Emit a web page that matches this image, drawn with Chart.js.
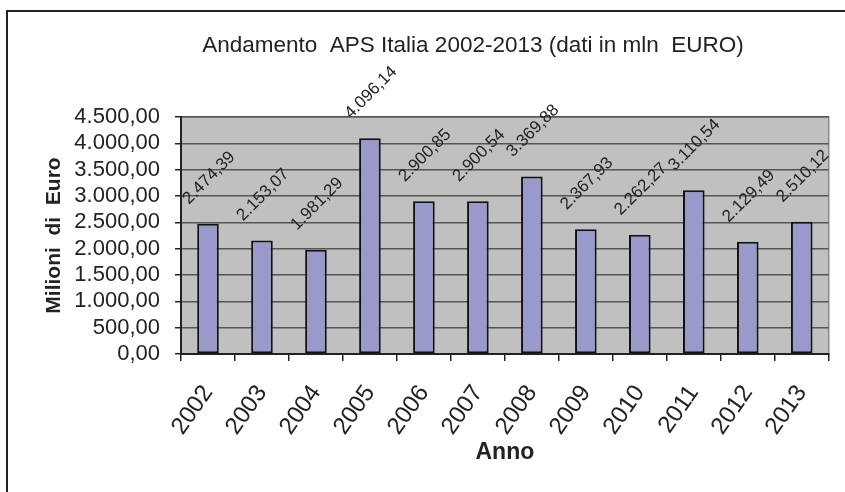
<!DOCTYPE html>
<html>
<head>
<meta charset="utf-8">
<script src="https://cdn.jsdelivr.net/npm/chart.js@4/dist/chart.umd.min.js"></script>
<style>
  html, body { margin: 0; padding: 0; background: #fff; }
  #wrap { width: 845px; height: 492px; }
</style>
</head>
<body>
<div id="wrap"><canvas id="myChart" width="845" height="492"></canvas></div>
<script>
// dati APS Italia (mln di euro)
var anni = ["2002", "2003", "2004", "2005", "2006", "2007", "2008", "2009", "2010", "2011", "2012", "2013"];
var valori = [2474.39, 2153.07, 1981.29, 4096.14, 2900.85, 2900.54, 3369.88, 2367.93, 2262.27, 3110.54, 2129.49, 2510.12];
var yMin = 0;
var yMax = 4500;
var yStep = 500;

var titolo = "Andamento  APS Italia 2002-2013 (dati in mln  EURO)";
var font = "'Liberation Sans', Arial, sans-serif";

// formato italiano: 2.474,39
function formatIt(v) {
  var parts = v.toFixed(2).split(".");
  var intero = parts[0].replace(/\B(?=(\d{3})+(?!\d))/g, ".");
  return intero + "," + parts[1];
}

// sfondo, cornice, titolo ed etichette dei dati
var sfondo = {
  id: "sfondo",
  beforeDraw: function (chart) {
    var ctx = chart.ctx;
    var a = chart.chartArea;
    ctx.save();
    ctx.fillStyle = "#fff";
    ctx.fillRect(0, 0, chart.width, chart.height);
    ctx.strokeStyle = "#222";
    ctx.lineWidth = 2;
    ctx.strokeRect(7, 11, chart.width + 20, chart.height + 20);
    ctx.fillStyle = "#c0c0c0";
    ctx.fillRect(a.left, a.top, a.right - a.left, a.bottom - a.top);
    ctx.strokeStyle = "#888";
    ctx.lineWidth = 1.5;
    ctx.strokeRect(a.left, a.top, a.right - a.left, a.bottom - a.top);
    ctx.fillStyle = "#222";
    ctx.font = "22.5px " + font;
    ctx.textAlign = "center";
    ctx.textBaseline = "middle";
    ctx.fillText(titolo, 473, 46);
    ctx.restore();
  },
  afterDatasetsDraw: function (chart) {
    var ctx = chart.ctx;
    var meta = chart.getDatasetMeta(0);
    ctx.save();
    ctx.fillStyle = "#222";
    ctx.font = "17px " + font;
    ctx.textAlign = "left";
    ctx.textBaseline = "alphabetic";
    meta.data.forEach(function (bar, i) {
      ctx.save();
      ctx.translate(bar.x - 19, bar.y - 19);
      ctx.rotate(-Math.PI / 4);
      ctx.fillText(formatIt(valori[i]), 0, 0);
      ctx.restore();
    });
    ctx.restore();
  }
};

var ctx = document.getElementById("myChart").getContext("2d");
var myChart = new Chart(ctx, {
  type: "bar",
  data: {
    labels: anni,
    datasets: [
      {
        data: valori,
        backgroundColor: "#9999cc",
        borderColor: "#111",
        borderWidth: 2,
        borderSkipped: false,
        barPercentage: 0.4,
        categoryPercentage: 1
      }
    ]
  },
  options: {
    responsive: false,
    animation: false,
    layout: {
      padding: { top: 117, right: 16, left: 0, bottom: 0 }
    },
    plugins: {
      legend: { display: false },
      tooltip: { enabled: false },
      title: { display: false }
    },
    scales: {
      x: {
        afterFit: function (scale) { scale.height = 138; },
        grid: {
          offset: true,
          drawOnChartArea: false,
          drawTicks: true,
          tickLength: 7,
          color: "#222",
          lineWidth: 1.5
        },
        border: { color: "#222", width: 2 },
        ticks: {
          autoSkip: false,
          minRotation: 55,
          maxRotation: 55,
          padding: 19,
          color: "#222",
          font: { family: font, size: 24 }
        },
        title: {
          display: true,
          text: "Anno",
          color: "#222",
          font: { family: font, size: 23, weight: "bold" },
          padding: { top: 0, bottom: 26 }
        }
      },
      y: {
        min: yMin,
        max: yMax,
        afterFit: function (scale) { scale.width = 181; },
        grid: {
          color: "#555",
          lineWidth: 1.5,
          drawTicks: true,
          tickLength: 6,
          tickColor: "#222"
        },
        border: { color: "#222", width: 2 },
        ticks: {
          autoSkip: false,
          stepSize: yStep,
          padding: 15,
          color: "#222",
          font: { family: font, size: 22 },
          callback: function (v) { return formatIt(v); }
        },
        title: {
          display: true,
          text: "Milioni  di  Euro",
          color: "#222",
          font: { family: font, size: 21, weight: "bold" },
          padding: { top: 42, bottom: 0 }
        }
      }
    }
  },
  plugins: [sfondo]
});
</script>
</body>
</html>
